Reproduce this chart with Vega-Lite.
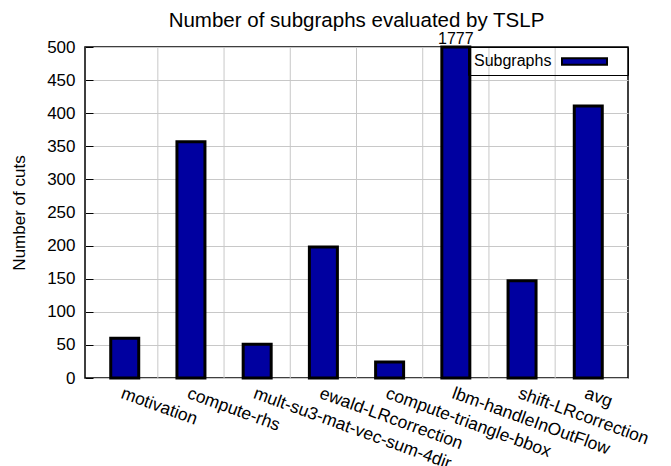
{
  "$schema": "https://vega.github.io/schema/vega-lite/v6.json",
  "width": 543,
  "height": 331,
  "autosize": {"type": "none"},
  "padding": {"left": 85, "top": 47, "right": 43, "bottom": 88},
  "title": {
    "text": "Number of subgraphs evaluated by TSLP",
    "fontSize": 20.5,
    "fontWeight": "normal",
    "font": "Liberation Sans",
    "color": "black",
    "frame": "group",
    "baseline": "alphabetic",
    "offset": 0,
    "dy": 16
  },
  "config": {
    "font": "Liberation Sans",
    "view": {"stroke": "black", "strokeWidth": 1.5},
    "axis": {
      "labelFont": "Liberation Sans",
      "titleFont": "Liberation Sans",
      "labelColor": "black",
      "titleColor": "black",
      "gridColor": "#c8c8c8",
      "gridOpacity": 1,
      "domain": false,
      "labelOverlap": false
    }
  },
  "data": {
    "values": [
      {"cat": "motivation", "value": 60},
      {"cat": "compute-rhs", "value": 357},
      {"cat": "mult-su3-mat-vec-sum-4dir", "value": 51},
      {"cat": "ewald-LRcorrection", "value": 198},
      {"cat": "compute-triangle-bbox", "value": 24},
      {"cat": "lbm-handleInOutFlow", "value": 1777},
      {"cat": "shift-LRcorrection", "value": 147},
      {"cat": "avg", "value": 411}
    ]
  },
  "encoding": {
    "x": {
      "field": "cat",
      "type": "nominal",
      "sort": null,
      "scale": {
        "domain": ["motivation", "compute-rhs", "mult-su3-mat-vec-sum-4dir", "ewald-LRcorrection", "compute-triangle-bbox", "lbm-handleInOutFlow", "shift-LRcorrection", "avg"],
        "paddingInner": 0,
        "paddingOuter": 0.1
      },
      "axis": {
        "title": null,
        "ticks": false,
        "grid": false,
        "labelAngle": 20,
        "labelAlign": "left",
        "labelBaseline": "top",
        "labelPadding": 6,
        "labelFontSize": 17.5,
        "labelLimit": 400,
        "labelOverlap": false
      }
    },
    "y": {
      "field": "value",
      "type": "quantitative",
      "scale": {"domain": [0, 500], "clamp": true, "nice": false},
      "axis": {
        "title": "Number of cuts",
        "titleFontSize": 17,
        "titleFontWeight": "normal",
        "titlePadding": 18,
        "values": [0, 50, 100, 150, 200, 250, 300, 350, 400, 450, 500],
        "labelOverlap": false,
        "labelBound": false,
        "grid": true,
        "tickSize": -8,
        "tickColor": "black",
        "tickWidth": 1,
        "labelPadding": 18,
        "labelFontSize": 17
      }
    }
  },
  "layer": [
    {
      "transform": [{"filter": "datum.cat !== 'motivation'"}],
      "mark": {"type": "rule", "color": "#c8c8c8", "strokeWidth": 1},
      "encoding": {
        "x": {"field": "cat", "type": "nominal", "sort": null, "bandPosition": 0},
        "y": null
      }
    },
    {
      "mark": {"type": "bar", "width": 28, "stroke": "black", "strokeWidth": 3},
      "encoding": {
        "color": {
          "datum": "Subgraphs",
          "type": "nominal",
          "scale": {"range": ["#0000a0"]},
          "legend": {
            "title": "Subgraphs",
            "titleOrient": "left",
            "titleFontSize": 16,
            "titleFontWeight": "normal",
            "titleColor": "black",
            "titlePadding": 24,
            "titleBaseline": "middle",
            "orient": "top-right",
            "offset": 0,
            "padding": 6,
            "strokeColor": "black",
            "labelExpr": "''",
            "labelOffset": 29,
            "symbolType": "M-3,-0.42H3V0.42H-3Z",
            "symbolSize": 225,
            "symbolStrokeColor": "black",
            "symbolStrokeWidth": 2,
            "symbolOpacity": 1
          }
        }
      }
    },
    {
      "transform": [{"filter": "datum.value > 500"}],
      "mark": {"type": "text", "baseline": "alphabetic", "dy": -3, "fontSize": 16, "color": "black"},
      "encoding": {
        "text": {"field": "value", "type": "quantitative"}
      }
    }
  ]
}
